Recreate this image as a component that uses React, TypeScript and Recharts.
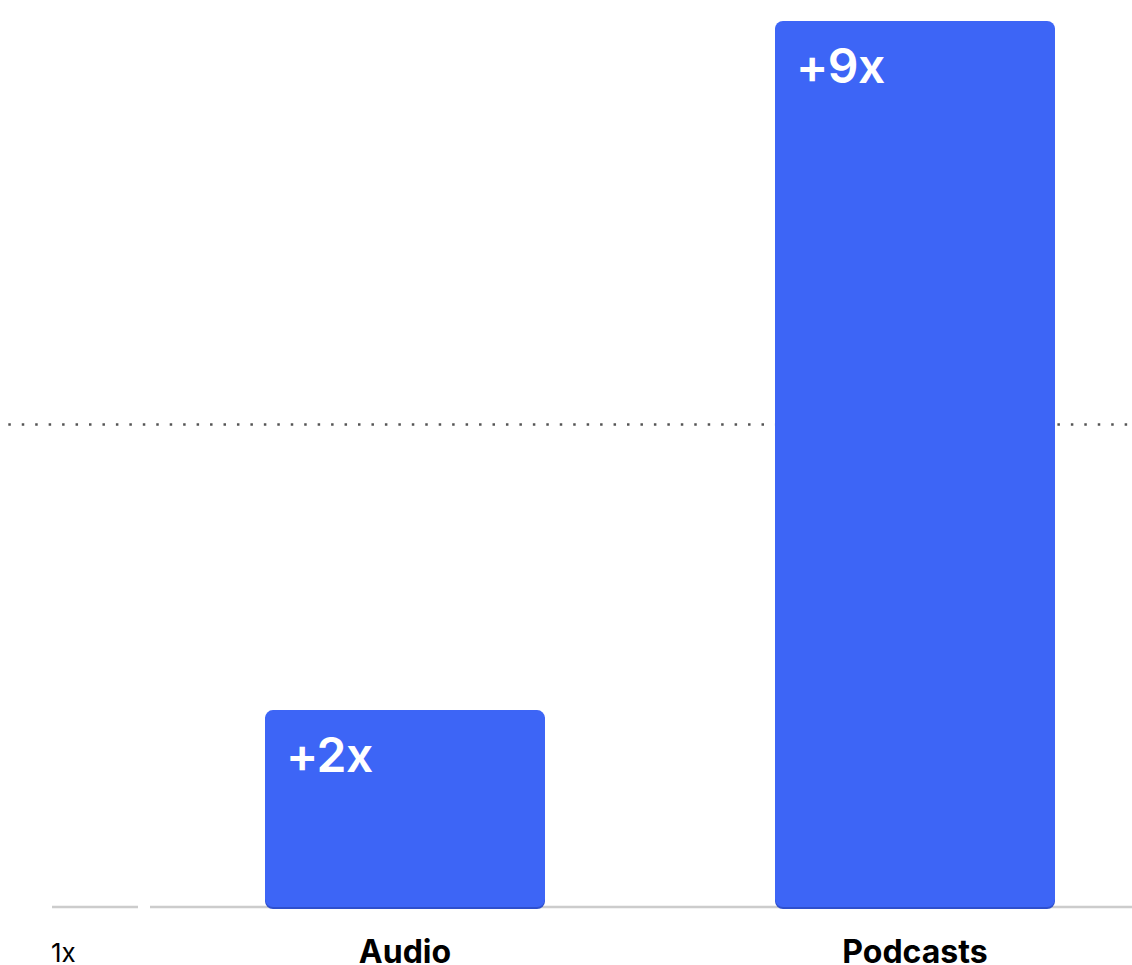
import React from "react";
import { Bar, BarChart, LabelList, ReferenceLine, XAxis, YAxis } from "recharts";

const categories = ["Audio", "Podcasts"];
const growth = [2, 9];
const yTicks = [0];
const yTickLabels = ["1x"];
const markerValue = 4.9;

const data = categories.map((name, i) => ({ name, growth: growth[i] }));

const FONT = "Inter, 'Noto Sans', Arial, sans-serif";
const BLUE = "#3d65f6";
const BLUE_DARK = "#2e4fcc";
const GREY = "#cccccc";

function RoundedBar(props: any) {
  const { x, y, width, height } = props;
  if (!height || height <= 0) return null;
  return (
    <g>
      <rect x={x} y={y + 2} width={width} height={height} rx={8} ry={8} fill={BLUE_DARK} />
      <rect x={x} y={y} width={width} height={height} rx={8} ry={8} fill={BLUE} />
    </g>
  );
}

function ValueLabel(props: any) {
  const { x, y, value } = props;
  return (
    <text x={x + 21} y={y + 62} fill="#ffffff" fontFamily={FONT} fontSize={48} fontWeight={600} letterSpacing={-0.5}>
      {`+${value}x`}
    </text>
  );
}

function CategoryTick(props: any) {
  const { x, y, payload } = props;
  return (
    <text x={x} y={y + 56} textAnchor="middle" fill="#000000" fontFamily={FONT} fontSize={32} fontWeight={700}>
      {payload.value}
    </text>
  );
}

function BaseTick(props: any) {
  const { y, payload, index } = props;
  return (
    <g>
      <line x1={52} x2={138} y1={y} y2={y} stroke={GREY} strokeWidth={2.5} />
      <text x={51} y={y + 55} fill="#000000" fontFamily={FONT} fontSize={26} fontWeight={400}>
        {yTickLabels[index] ?? payload.value}
      </text>
    </g>
  );
}

function DottedLine(props: any) {
  const { y1 } = props;
  return (
    <line
      x1={8.3}
      x2={1132}
      y1={y1}
      y2={y1}
      stroke="#555555"
      strokeWidth={2.5}
      strokeDasharray="2.5 10.95"
    />
  );
}

export default function App() {
  return (
    <div
      style={{
        position: "fixed",
        left: 0,
        top: 0,
        width: 1132,
        height: 965,
        overflow: "hidden",
        background: "#ffffff",
      }}
    >
      <BarChart
        width={1170}
        height={965}
        data={data}
        margin={{ top: 21, right: 0, bottom: 0, left: 0 }}
        barSize={280}
      >
        <ReferenceLine
          y={markerValue}
          ifOverflow="visible"
          shape={DottedLine}
          zIndex={-10}
        />
        <XAxis
          dataKey="name"
          height={58}
          tickLine={false}
          tickSize={0}
          tickMargin={0}
          axisLine={{ stroke: GREY, strokeWidth: 2.5 }}
          tick={CategoryTick}
          interval={0}
          zIndex={100}
        />
        <YAxis
          width={150}
          domain={[0, 9]}
          ticks={yTicks}
          axisLine={false}
          tickLine={false}
          tick={BaseTick}
        />
        <Bar dataKey="growth" shape={RoundedBar} isAnimationActive={false} zIndex={600}>
          <LabelList dataKey="growth" content={ValueLabel} />
        </Bar>
      </BarChart>
    </div>
  );
}
